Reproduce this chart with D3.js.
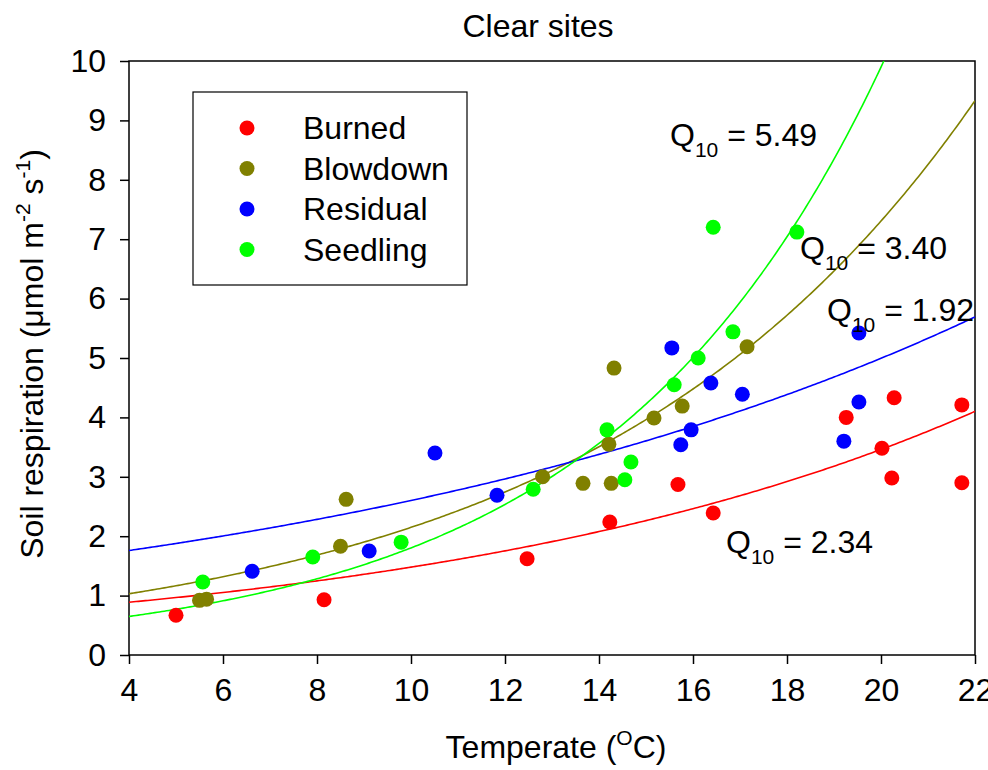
<!DOCTYPE html>
<html>
<head>
<meta charset="utf-8">
<script src="https://cdn.jsdelivr.net/npm/d3@7"></script>
<style>
  body { margin: 0; background: #fff; }
  text { font-family: "Liberation Sans", Arial, sans-serif; fill: #000; }
</style>
</head>
<body>
<svg id="chart" width="988" height="770"></svg>
<script>
// ---------- data ----------
const seriesNames = ["Burned", "Blowdown", "Residual", "Seedling"];
const seriesColors = ["#ff0000", "#808000", "#0000ff", "#00ff00"];

const burnedT = [5.0, 8.15, 12.47, 14.23, 15.68, 16.43, 19.26, 20.02, 20.28, 20.23, 21.72, 21.72];
const burnedR = [0.67, 0.93, 1.62, 2.24, 2.87, 2.39, 4.0, 3.48, 4.33, 2.98, 4.21, 2.9];

const blowdownT = [5.5, 5.65, 8.5, 8.62, 12.8, 13.66, 14.26, 14.21, 14.32, 15.17, 15.77, 17.15];
const blowdownR = [0.92, 0.94, 1.83, 2.62, 3.0, 2.89, 2.89, 3.55, 4.83, 3.99, 4.19, 5.19];

const residualT = [6.62, 9.11, 10.51, 11.83, 15.55, 15.74, 15.96, 16.38, 17.05, 19.21, 19.53, 19.53];
const residualR = [1.41, 1.75, 3.4, 2.69, 5.17, 3.54, 3.79, 4.58, 4.39, 3.6, 5.42, 4.26];

const seedlingT = [5.57, 7.91, 9.79, 12.6, 14.17, 14.68, 14.55, 15.6, 16.11, 16.85, 16.43, 18.21];
const seedlingR = [1.23, 1.65, 1.9, 2.79, 3.79, 3.25, 2.95, 4.55, 5.0, 5.44, 7.2, 7.12];

// fitted model R = a * Q10^(T/10)
const fitA = [0.632, 0.632, 1.355, 0.3284];
const fitQ10 = [2.34, 3.40, 1.92, 5.49];
const q10Labels = ["2.34", "3.40", "1.92", "5.49"];

const xTicks = [4, 6, 8, 10, 12, 14, 16, 18, 20, 22];
const yTicks = [0, 1, 2, 3, 4, 5, 6, 7, 8, 9, 10];

// ---------- layout ----------
const svg = d3.select("#chart");
const L = 129, R = 975, T = 61, B = 655;
const x = d3.scaleLinear().domain([4, 22]).range([L, R]);
const y = d3.scaleLinear().domain([0, 10]).range([B, T]);

svg.append("defs").append("clipPath").attr("id", "plotclip")
  .append("rect").attr("x", L).attr("y", T).attr("width", R - L).attr("height", B - T);

// axes
const xAxis = svg.append("g").attr("transform", `translate(0,${B})`)
  .call(d3.axisBottom(x).tickValues(xTicks).tickSize(9).tickSizeOuter(0).tickPadding(14));
const yAxis = svg.append("g").attr("transform", `translate(${L},0)`)
  .call(d3.axisLeft(y).tickValues(yTicks).tickSize(9).tickSizeOuter(0).tickPadding(14));
[xAxis, yAxis].forEach(g => {
  g.select(".domain").remove();
  g.selectAll(".tick line").attr("stroke", "#000").attr("stroke-width", 1.5);
  g.selectAll(".tick text").attr("font-size", 32).attr("font-family", "Liberation Sans, Arial, sans-serif").attr("fill", "#000");
});
xAxis.selectAll(".tick text").attr("dy", "0.71em");

// frame
svg.append("rect").attr("x", L).attr("y", T).attr("width", R - L).attr("height", B - T)
  .attr("fill", "none").attr("stroke", "#000").attr("stroke-width", 1.5);

// curves
const datasets = [
  [burnedT, burnedR], [blowdownT, blowdownR], [residualT, residualR], [seedlingT, seedlingR]
];
const curveG = svg.append("g").attr("clip-path", "url(#plotclip)");
const tGrid = d3.range(4, 22.001, 0.05);
const line = d3.line().x(d => x(d[0])).y(d => y(d[1]));
fitA.forEach((a, i) => {
  const pts = tGrid.map(t => [t, a * Math.pow(fitQ10[i], t / 10)]).filter(p => p[1] <= 10.3);
  curveG.append("path").datum(pts).attr("d", line)
    .attr("fill", "none").attr("stroke", seriesColors[i]).attr("stroke-width", 1.6);
});

// points
const ptG = svg.append("g");
datasets.forEach((ds, i) => {
  const pts = ds[0].map((t, k) => [t, ds[1][k]]);
  ptG.selectAll(null).data(pts).enter().append("circle")
    .attr("cx", d => x(d[0])).attr("cy", d => y(d[1])).attr("r", 7.5)
    .attr("fill", seriesColors[i]);
});

// Q10 labels: [series index, left x px, baseline y px]
const labelPos = [[0, 726, 553], [1, 800, 259], [2, 827, 321], [3, 670, 146]];
labelPos.forEach(([i, lx, ly]) => {
  const t = svg.append("text").attr("x", lx).attr("y", ly).attr("font-size", 32);
  t.append("tspan").text("Q");
  t.append("tspan").attr("font-size", 21).attr("dy", 11).text("10");
  t.append("tspan").attr("dy", -11).text(" = " + q10Labels[i]);
});

// legend
svg.append("rect").attr("x", 193).attr("y", 92).attr("width", 274).attr("height", 193)
  .attr("fill", "#fff").attr("stroke", "#000").attr("stroke-width", 1.2);
seriesNames.forEach((n, i) => {
  const cy = 128 + i * 40.5;
  svg.append("circle").attr("cx", 247).attr("cy", cy).attr("r", 7.5).attr("fill", seriesColors[i]);
  svg.append("text").attr("x", 303).attr("y", cy).attr("dy", "0.35em").attr("font-size", 32).text(n);
});

// title
svg.append("text").attr("x", 538).attr("y", 37).attr("text-anchor", "middle").attr("font-size", 32).text("Clear sites");

// x title
const xt = svg.append("text").attr("x", 556).attr("y", 758).attr("text-anchor", "middle").attr("font-size", 32);
xt.append("tspan").text("Temperate (");
xt.append("tspan").attr("font-size", 21).attr("dy", -13).text("O");
xt.append("tspan").attr("dy", 13).text("C)");

// y title
const yt = svg.append("text").attr("transform", "translate(43,354) rotate(-90)")
  .attr("text-anchor", "middle").attr("font-size", 32);
yt.append("tspan").text("Soil respiration (\u03bcmol m");
yt.append("tspan").attr("font-size", 21).attr("dy", -13).text("-2");
yt.append("tspan").attr("dy", 13).text(" s");
yt.append("tspan").attr("font-size", 21).attr("dy", -13).text("-1");
yt.append("tspan").attr("dy", 13).text(")");
</script>
</body>
</html>
